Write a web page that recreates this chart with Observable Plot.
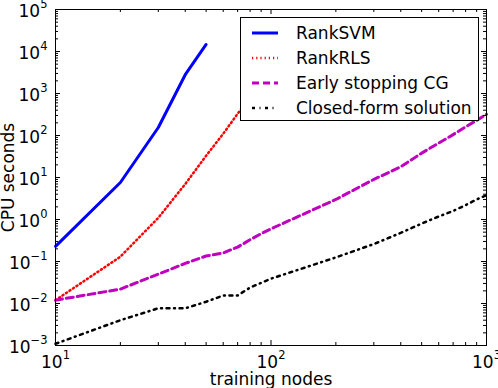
<!DOCTYPE html>
<html>
<head>
<meta charset="utf-8">
<script src="https://cdn.jsdelivr.net/npm/d3@7"></script>
<script src="https://cdn.jsdelivr.net/npm/@observablehq/plot@0.6"></script>
<style>
  html, body { margin: 0; padding: 0; background: white; }
  #wrap { position: relative; width: 498px; height: 388px; font-family: "DejaVu Sans", sans-serif; }
  #legend { position: absolute; left: 240px; top: 17px; width: 239px; height: 104px; box-sizing: border-box;
            border: 1px solid black; background: white; }
  .row { position: absolute; left: 0; height: 24px; line-height: 24px; font-size: 17px; white-space: nowrap; }
  .row svg { position: absolute; left: 11px; top: 9px; }
  .row span { position: absolute; left: 55px; top: 0; }
</style>
</head>
<body>
<div id="wrap"><div id="legend"></div></div>
<script>
// ---- data ----
const seriesNames = ["RankSVM", "RankRLS", "Early stopping CG", "Closed-form solution"];

const rankSvmNodes = [10, 20, 30, 40, 50];
const rankSvmSecs  = [0.23, 7.6, 155, 2800, 14700];

const rankRlsNodes = [10, 20, 30, 40, 50, 60, 70, 80];
const rankRlsSecs  = [0.012, 0.13, 1.1, 7, 33, 110, 330, 800];

const cgNodes = [10, 20, 30, 40, 50, 60, 70, 80, 90, 100, 200, 300, 400, 500, 600, 700, 800, 900, 1000];
const cgSecs  = [0.012, 0.022, 0.05, 0.09, 0.135, 0.16, 0.22, 0.33, 0.46, 0.6, 3, 9, 18, 38, 66, 105, 160, 230, 320];

const closedNodes = [10, 20, 30, 40, 50, 60, 70, 80, 90, 100, 200, 300, 400, 500, 600, 700, 800, 900, 1000];
const closedSecs  = [0.0011, 0.004, 0.0077, 0.0077, 0.011, 0.0155, 0.0155, 0.024, 0.031, 0.039, 0.125, 0.26, 0.48, 0.8, 1.18, 1.6, 2.2, 3.0, 3.8];

const xMajorTicks = [10, 100, 1000];
const xTickLabels = ["10^1", "10^2", "10^3"];
const xMinorTicks = [20, 30, 40, 50, 60, 70, 80, 90, 200, 300, 400, 500, 600, 700, 800, 900];
const yMajorTicks = [1e-3, 1e-2, 1e-1, 1e0, 1e1, 1e2, 1e3, 1e4, 1e5];
const yTickLabels = ["10^\u22123", "10^\u22122", "10^\u22121", "10^0", "10^1", "10^2", "10^3", "10^4", "10^5"];
const yMinorTicks = yMajorTicks.slice(0, -1).flatMap(d => [2,3,4,5,6,7,8,9].map(k => d * k));

// ---- styles ----
const styles = [
  {stroke: "#0000ff", strokeWidth: 3, dash: null},
  {stroke: "#ff0000", strokeWidth: 2.5, dash: "1.2,3"},
  {stroke: "#bf00bf", strokeWidth: 3, dash: "7,4"},
  {stroke: "#000000", strokeWidth: 2.5, dash: "3,4.5,1,4.5"}
];
const seriesData = [
  [rankSvmNodes, rankSvmSecs],
  [rankRlsNodes, rankRlsSecs],
  [cgNodes, cgSecs],
  [closedNodes, closedSecs]
].map(([n, s], i) => n.map((v, j) => ({series: seriesNames[i], n: v, t: s[j]})));

const W = 498, H = 388, mL = 55, mR = 12, mT = 9, mB = 43;
const fw = W - mL - mR, fh = H - mT - mB;
const majorLen = 5, minorLen = 3;

const lineMarks = seriesData.map((d, i) => Plot.line(d, {
  x: "n", y: "t", stroke: styles[i].stroke, strokeWidth: styles[i].strokeWidth,
  strokeDasharray: styles[i].dash, strokeLinejoin: "round"
}));

const chart = Plot.plot({
  width: W, height: H,
  marginLeft: mL, marginRight: mR, marginTop: mT, marginBottom: mB,
  style: {fontFamily: "DejaVu Sans", fontSize: "17px", background: "white", color: "black", overflow: "visible"},
  x: {type: "log", domain: [10, 1000]},
  y: {type: "log", domain: [1e-3, 1e5]},
  marks: [
    ...lineMarks,
    Plot.frame({stroke: "black", strokeWidth: 1}),
    Plot.tickX(xMajorTicks, {x: d => d, stroke: "black", insetTop: fh - majorLen}),
    Plot.tickX(xMajorTicks, {x: d => d, stroke: "black", insetBottom: fh - majorLen}),
    Plot.tickX(xMinorTicks, {x: d => d, stroke: "black", insetTop: fh - minorLen}),
    Plot.tickX(xMinorTicks, {x: d => d, stroke: "black", insetBottom: fh - minorLen}),
    Plot.tickY(yMajorTicks, {y: d => d, stroke: "black", insetRight: fw - majorLen}),
    Plot.tickY(yMajorTicks, {y: d => d, stroke: "black", insetLeft: fw - majorLen}),
    Plot.tickY(yMinorTicks, {y: d => d, stroke: "black", insetRight: fw - minorLen}),
    Plot.tickY(yMinorTicks, {y: d => d, stroke: "black", insetLeft: fw - minorLen}),
    Plot.axisX(xMajorTicks, {
      tickSize: 0, tickPadding: 10,
      tickFormat: d => xTickLabels[xMajorTicks.indexOf(d)],
      label: "training nodes", labelAnchor: "center", labelOffset: 39, labelArrow: "none"
    }),
    Plot.axisY(yMajorTicks, {
      tickSize: 0, tickPadding: 8, dy: 2,
      tickFormat: d => yTickLabels[yMajorTicks.indexOf(d)],
      label: "CPU seconds", labelAnchor: "center", labelOffset: 54, labelArrow: "none"
    })
  ]
});

// superscript exponents on tick labels
const NS = "http://www.w3.org/2000/svg";
chart.querySelectorAll('g[aria-label$="tick label"] text').forEach(t => {
  const s = t.textContent;
  if (!s.includes("^")) return;
  const [base, exp] = s.split("^");
  t.textContent = base;
  const ts = document.createElementNS(NS, "tspan");
  ts.setAttribute("dy", "-9");
  ts.setAttribute("font-size", "11.5");
  ts.textContent = exp;
  t.appendChild(ts);
});

const wrap = document.getElementById("wrap");
wrap.insertBefore(chart, wrap.firstChild);

// legend
const legend = document.getElementById("legend");
seriesNames.forEach((name, i) => {
  const row = document.createElement("div");
  row.className = "row";
  row.style.top = (3 + i * 25) + "px";
  row.style.width = "230px";
  const svg = document.createElementNS(NS, "svg");
  svg.setAttribute("width", 26); svg.setAttribute("height", 6);
  const ln = document.createElementNS(NS, "line");
  ln.setAttribute("x1", 0); ln.setAttribute("x2", 26); ln.setAttribute("y1", 3); ln.setAttribute("y2", 3);
  ln.setAttribute("stroke", styles[i].stroke);
  ln.setAttribute("stroke-width", styles[i].strokeWidth);
  if (styles[i].dash) ln.setAttribute("stroke-dasharray", styles[i].dash);
  svg.appendChild(ln);
  const sp = document.createElement("span");
  sp.textContent = name;
  row.appendChild(svg); row.appendChild(sp);
  legend.appendChild(row);
});
</script>
</body>
</html>
